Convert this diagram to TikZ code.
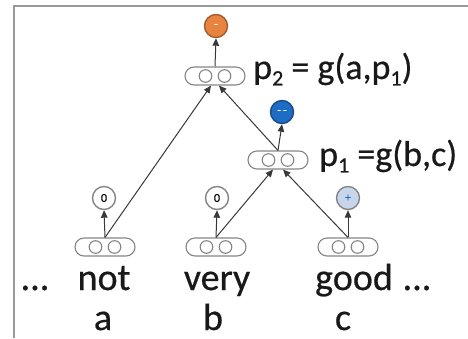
\documentclass[tikz,border=0pt]{standalone}
\usepackage{fontspec}
\setmainfont{Carlito}
\newfontfamily\heavy{Carlito}[FakeBold=0.5]
\usetikzlibrary{shapes.misc,arrows.meta}
\definecolor{negorange}{HTML}{E8833F}
\definecolor{negblue}{HTML}{1F6CC4}
\definecolor{poslight}{HTML}{C8D6EC}
\definecolor{rim}{HTML}{858585}
\tikzset{
  vec/.style={draw=rim, line width=1.1pt, rounded rectangle, minimum width=60pt,
    minimum height=18pt, inner sep=0pt,
    path picture={
      \draw[rim, line width=1.1pt] ([xshift=-9.5pt]path picture bounding box.center) circle (6.3pt);
      \draw[rim, line width=1.1pt] ([xshift=9.5pt]path picture bounding box.center) circle (6.3pt);
    }},
  unit/.style={circle, draw=rim, line width=1.4pt, minimum size=23pt, inner sep=0pt,
    font=\heavy\fontsize{12}{12}\selectfont},
  link/.style={draw=black!78, line width=1pt, -{Triangle[length=7.5pt,width=6.5pt]}},
  word/.style={font=\heavy\fontsize{38}{38}\selectfont, text=black!90, anchor=base, inner sep=0pt},
  eqn/.style={font=\heavy\fontsize{36}{36}\selectfont, text=black!90, anchor=base west, inner sep=0pt},
}
\newcommand{\sbs}[1]{\raisebox{-0.18em}{\fontsize{22}{22}\selectfont #1}}
\begin{document}
\begin{tikzpicture}[x=1pt, y=-1pt]
  \useasboundingbox (0,0) rectangle (468,338);
  % frame
  \draw[black!40, line width=1.6pt] (14,338) -- (14,6) -- (468,6);

  % word vectors
  \node[vec] (va) at (105,247) {};
  \node[vec] (vb) at (216,247) {};
  \node[vec] (vc) at (348,247) {};
  % parent vectors
  \node[vec] (p1) at (278,160) {};
  \node[vec] (p2) at (215,76) {};

  % sentiment units
  \node[unit, fill=white] (sa) at (104,198) {0};
  \node[unit, fill=white] (sb) at (217,198) {0};
  \node[unit, fill=poslight, text=negblue] (sc) at (348,198) {+};
  \node[unit, fill=negblue, text=white, draw=negblue!70!black] (s1) at (282,112) {-\,-};
  \node[unit, fill=negorange, text=white, draw=negorange!70!black] (s2) at (216,26) {-};

  % vector -> unit
  \draw[link] (va.north) -- (sa.south);
  \draw[link] (vb.north) -- (sb.south);
  \draw[link] (vc.north) -- (sc.south);
  \draw[link] (p1.north) -- (s1.south);
  \draw[link] (p2.north) -- (s2.south);

  % composition
  \draw[link] (vb.north) -- ([xshift=-5pt]p1.south);
  \draw[link] (vc.north) -- ([xshift=5pt]p1.south);
  \draw[link] (va.north) -- ([xshift=-4pt]p2.south);
  \draw[link] (p1.north) -- ([xshift=4pt]p2.south);

  % equations
  \node[eqn] (e2) at (253,79) {p\sbs{2} = g(a,p\sbs{1})};
  \node[eqn] (e1) at (319,166) {p\sbs{1} =g(b,c)};

  % words
  \node[word] (dl) at (35,290) {...};
  \node[word] (wa) at (104,290) {not};
  \node[word] (wb) at (217,290) {very};
  \node[word] (wc) at (354,290) {good};
  \node[word] (dr) at (417,290) {...};
  \node[word] (la) at (103,330) {a};
  \node[word] (lb) at (213,330) {b};
  \node[word] (lc) at (343,330) {c};
\end{tikzpicture}
\end{document}
